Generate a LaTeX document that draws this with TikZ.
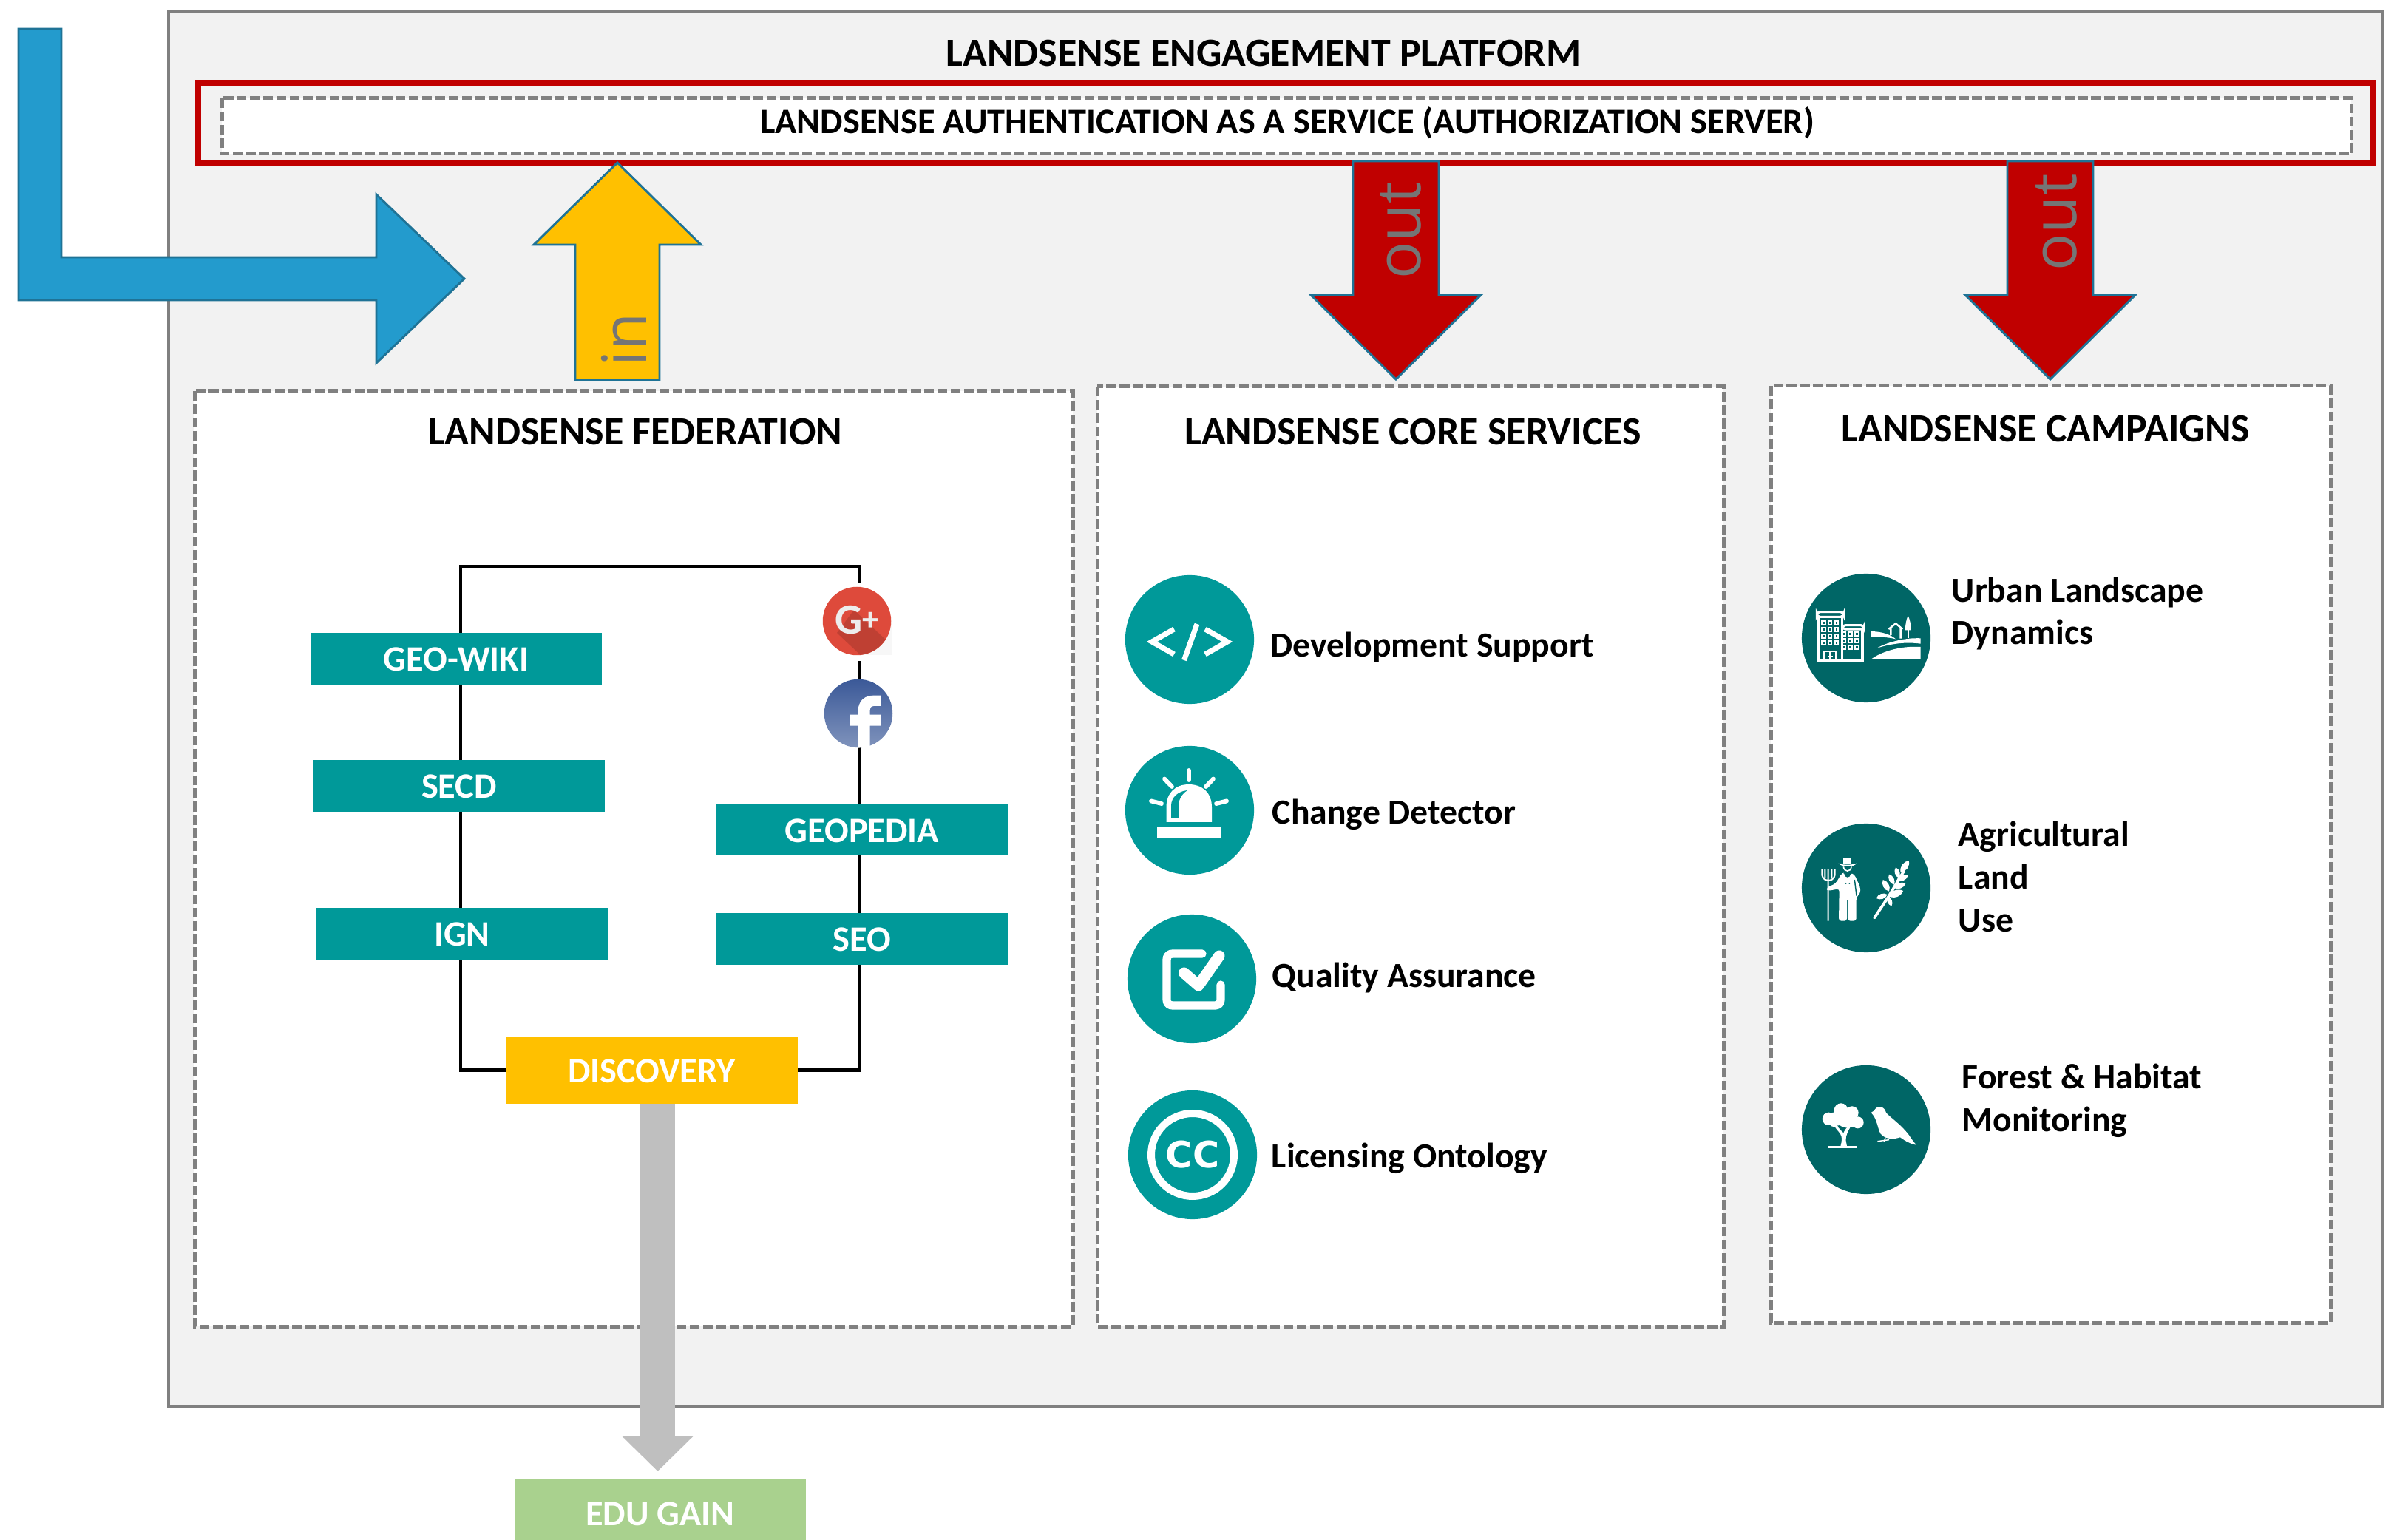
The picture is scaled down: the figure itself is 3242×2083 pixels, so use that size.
\documentclass[tikz,border=0pt]{standalone}
\usepackage{fontspec}
\setmainfont{Carlito}
\newfontfamily\arrowfont{Open Sans}
\newfontfamily\ccfont{DejaVu Sans}
\usetikzlibrary{arrows.meta}
\definecolor{teal1}{HTML}{009999}
\definecolor{teal2}{HTML}{006666}
\definecolor{amber}{HTML}{FFC000}
\definecolor{crimson}{HTML}{C00000}
\definecolor{sky}{HTML}{239BCD}
\definecolor{edge}{HTML}{1F7396}
\definecolor{midgrey}{HTML}{808080}
\definecolor{panel}{HTML}{F2F2F2}
\definecolor{leafgreen}{HTML}{A9D18E}
\definecolor{lightgrey}{HTML}{BFBFBF}
\definecolor{textgrey}{HTML}{757575}
\definecolor{fbblue}{HTML}{3B5998}
\definecolor{gred}{HTML}{DE4A3B}
\pgfdeclarelayer{bg}
\pgfsetlayers{bg,main}
\newcommand{\pxfont}[1]{\fontsize{#1}{#1}\selectfont}
\newcommand{\leafshape}[4]{\fill[white] (#1,#2) to[bend left=50] (#3,#4) to[bend left=50] (#1,#2) -- cycle;}
\tikzset{
  dashbox/.style={draw=midgrey,line width=1.2pt,dash pattern=on 3.2pt off 1.1pt,fill=white},
  blockedge/.style={draw=edge,line width=0.7pt,line join=miter},
  tagbox/.style={fill=teal1,text=white,inner sep=0pt,text height=8pt,text depth=0pt,minimum width=94.6pt,minimum height=16.6pt,font=\bfseries\pxfont{11.6pt}},
  headtext/.style={inner sep=0pt,font=\bfseries\pxfont{12.95pt}},
  itemtext/.style={inner sep=0pt,anchor=base west,font=\bfseries\pxfont{11.45pt}},
  multitext/.style={inner sep=0pt,anchor=west,align=left,font=\bfseries\fontsize{11.45pt}{13.9pt}\selectfont},
  arrowtext/.style={inner sep=0pt,anchor=base,rotate=90,text=textgrey,font=\arrowfont\pxfont{20pt}},
  disc1/.style={circle,fill=teal1,minimum size=41.8pt,inner sep=0pt},
  disc2/.style={circle,fill=teal2,minimum size=41.8pt,inner sep=0pt},
  iconline/.style={draw=white,line cap=round,line join=round,line width=#1}
}
\begin{document}
\begin{tikzpicture}[x=0.24pt,y=-0.24pt]
\useasboundingbox (0,0) rectangle (3242,2083);
% panels
\begin{pgfonlayer}{bg}
\fill[white] (0,0) rectangle (3242,2083);
\draw[draw=midgrey,line width=1pt,fill=panel] (228,16) rectangle (3223,1902);
\draw[draw=crimson,line width=2pt,fill=panel] (268,112) rectangle (3209,220);
\draw[dashbox] (300,133) rectangle (3180,208);
\draw[dashbox] (263,529) rectangle (1451,1794);
\draw[dashbox] (1484,523) rectangle (2331,1794);
\draw[dashbox] (2395,522) rectangle (3152,1789);
\end{pgfonlayer}
% titles
\node[headtext] (platform) at (1709,72) {LANDSENSE ENGAGEMENT PLATFORM};
\node[headtext,font=\bfseries\pxfont{11.6pt}] (auth) at (1741,166) {LANDSENSE AUTHENTICATION AS A SERVICE (AUTHORIZATION SERVER)};
\node[headtext] (fedtitle) at (859,584) {LANDSENSE FEDERATION};
\node[headtext] (coretitle) at (1911,584) {LANDSENSE CORE SERVICES};
\node[headtext] (camptitle) at (2767,580) {LANDSENSE CAMPAIGNS};
% federation
\node[tagbox] (geowiki) at (617,891) {GEO-WIKI};
\node[tagbox] (secd) at (621,1063) {SECD};
\node[tagbox] (ign) at (625,1263) {IGN};
\node[tagbox] (geopedia) at (1166,1122.5) {GEOPEDIA};
\node[tagbox] (seo) at (1166,1270) {SEO};
\node[tagbox,fill=amber,minimum height=21.8pt] (discovery) at (881.5,1447.5) {DISCOVERY};
\node[tagbox,fill=leafgreen,minimum height=22.1pt] (edugain) at (893,2047) {EDU GAIN};
\coordinate (lt) at (623,766);
\coordinate (rt) at (1162,766);
\begin{pgfonlayer}{bg}
\draw[line width=1pt,black] (discovery.west) -| (lt) -- (rt) |- (discovery.east);
\end{pgfonlayer}
% social logos
\fill[white] (1112,789) rectangle (1206,894);
\fill[white!97!black] (1159,840) rectangle (1206,886);
\node[circle,fill=gred,minimum size=22.2pt,inner sep=0pt] (gplus) at (1159,840) {};
\begin{scope}
\clip (1159,840) circle (46);
\fill[black!14!gred] (1132,856) -- (1155,825) -- (1205,872) -- (1205,890) -- (1168,890) -- cycle;
\end{scope}
\node[inner sep=0pt,text=white!93!black,font=\bfseries\pxfont{14pt}] (gtext) at (1159,839) {G\raisebox{1.2pt}{\pxfont{10.5pt}+}};
\node[circle,minimum size=22.2pt,inner sep=0pt,shade,top color=fbblue,middle color=fbblue,bottom color=fbblue!65!white] (fb) at (1161,965) {};
\begin{scope}[shift={(1050,760)},x=0.08pt,y=-0.08pt]
\fill[white] (333,755) -- (333,665) -- (298,665) -- (298,620) -- (333,620) -- (333,590) .. controls (340,560) and (360,542) .. (395,542) -- (423,542) -- (423,585) -- (395,585) .. controls (382,585) and (380,595) .. (380,605) -- (380,620) -- (423,620) -- (423,665) -- (380,665) -- (380,750) -- cycle;
\end{scope}
% discovery to edugain
\coordinate (gs) at (889.5,1493);
\coordinate (ge) at (889.5,1990);
\draw[line width=11.3pt,lightgrey,-{Triangle[length=11.3pt,width=22.3pt]}] (gs) -- (ge);
% block arrows
\draw[blockedge,fill=sky] (25,39) -- (83,39) -- (83,348) -- (509,348) -- (509,263) -- (628,377) -- (509,491) -- (509,406) -- (25,406) -- cycle;
\draw[blockedge,fill=amber] (835,220) -- (948,331) -- (892,331) -- (892,514) -- (778,514) -- (778,331) -- (722,331) -- cycle;
\draw[blockedge,fill=crimson] (1830,218) -- (1946,218) -- (1946,399) -- (2003,399) -- (1888,513) -- (1773,399) -- (1830,399) -- cycle;
\draw[blockedge,fill=crimson] (2715,218) -- (2831,218) -- (2831,399) -- (2888,399) -- (2773,513) -- (2658,399) -- (2715,399) -- cycle;
\node[arrowtext] (intext) at (874,459) {in};
\node[arrowtext] (out1) at (1921,312) {out};
\node[arrowtext] (out2) at (2808,301) {out};
% core service discs
\node[disc1] (c1) at (1609,865) {};
\node[disc1] (c2) at (1609,1096) {};
\node[disc1] (c3) at (1612,1324) {};
\node[disc1] (c4) at (1613,1562) {};
\node[itemtext] (t1) at (1718,889) {Development Support};
\node[itemtext] (t2) at (1720,1114) {Change Detector};
\node[itemtext] (t3) at (1720,1335) {Quality Assurance};
\node[itemtext] (t4) at (1719,1579) {Licensing Ontology};
% code icon
\draw[iconline=1.7pt,line cap=butt,line join=miter] (1588,851) -- (1558,868) -- (1588,885);
\draw[iconline=1.7pt,line cap=butt] (1601.5,893) -- (1619,844);
\draw[iconline=1.7pt,line cap=butt,line join=miter] (1630,851) -- (1660,868) -- (1630,885);
% alarm icon
\fill[white] (1565,1119) rectangle (1651.5,1134.5);
\fill[white] (1577.5,1112) -- (1577.5,1092) .. controls (1577.5,1072) and (1590,1061) .. (1608,1061) .. controls (1626,1061) and (1639,1072) .. (1639,1092) -- (1639,1112) -- cycle;
\fill[teal1] (1584,1106) -- (1584,1090) .. controls (1584,1078) and (1594,1070) .. (1606,1069) .. controls (1598,1074) and (1594,1082) .. (1594,1090) -- (1594,1106) -- cycle;
\draw[iconline=1.4pt] (1608,1042) -- (1608,1055) (1575,1053.5) -- (1585,1064) (1641,1053.5) -- (1631,1064) (1557,1083.5) -- (1571,1087) (1659,1083.5) -- (1645,1087);
% check icon
\draw[iconline=2.7pt] (1626,1290) -- (1586,1290) .. controls (1581,1290) and (1578,1293) .. (1578,1298) -- (1578,1352) .. controls (1578,1357) and (1581,1360) .. (1586,1360) -- (1643,1360) .. controls (1648,1360) and (1651,1357) .. (1651,1352) -- (1651,1332);
\draw[iconline=3.6pt] (1601.5,1316) -- (1621,1333) -- (1649,1293);
% cc icon
\draw[draw=white,line width=2.4pt] (1613,1562) circle (56);
\node[inner sep=0pt,text=white,font=\ccfont\bfseries\pxfont{11.8pt}] (cc) at (1613,1562) {CC};
% campaign discs
\node[disc2] (d1) at (2524,863) {};
\node[disc2] (d2) at (2524,1201) {};
\node[disc2] (d3) at (2524,1528) {};
\node[multitext] (u1) at (2639,830) {Urban Landscape\\Dynamics};
\node[multitext] (u2) at (2648,1186) {Agricultural\\Land\\Use};
\node[multitext] (u3) at (2653,1489) {Forest \& Habitat\\Monitoring};
% urban icon
\begin{scope}[shift={(2440,775)},x=0.08pt,y=-0.08pt]
\draw[draw=white,line width=0.75pt,rounded corners=1pt] (52,158) rectangle (160,178);
\draw[draw=white,line width=0.75pt] (58,178) -- (58,355) -- (237,355) -- (237,228) (155,178) -- (155,355);
\draw[draw=white,line width=0.75pt,rounded corners=1pt] (155,212) rectangle (243,228);
\foreach \xx in {72,98,125} \foreach \yy in {195,222,250,277} \draw[draw=white,line width=0.5pt] (\xx,\yy) rectangle +(14,14);
\foreach \xx in {153,180,207} \foreach \yy in {240,267,295} \draw[draw=white,line width=0.5pt] (\xx,\yy) rectangle +(14,14);
\draw[draw=white,line width=0.5pt] (82,355) -- (82,318) -- (130,318) -- (130,355) (106,322) -- (106,355) (96,338) -- (116,338);
\fill[white] (270,237) .. controls (310,237) and (350,248) .. (372,268) .. controls (340,260) and (300,258) .. (270,260) -- cycle;
\fill[white] (295,305) .. controls (340,280) and (410,262) .. (473,265) -- (473,287) .. controls (410,278) and (350,288) .. (295,305) -- cycle;
\fill[white] (272,350) .. controls (320,315) and (400,295) .. (473,300) -- (473,350) -- cycle;
\draw[draw=white,line width=0.6pt] (343,228) -- (372,205) -- (400,228) (352,225) -- (352,252) (392,222) -- (392,266);
\fill[white] (422,173) .. controls (414,190) and (410,215) .. (411,232) -- (434,232) .. controls (435,215) and (430,190) .. (422,173) -- cycle;
\draw[draw=white,line width=0.4pt] (422,232) -- (422,265);
\end{scope}
% farmer icon
\begin{scope}[shift={(2440,1115)},x=0.08pt,y=-0.08pt]
\draw[draw=white,line width=0.5pt] (98,392) -- (98,182) (73,182) -- (73,205) .. controls (75,222) and (90,228) .. (98,228) .. controls (108,228) and (123,222) .. (125,205) -- (125,182) (85,182) -- (85,218) (112,182) -- (112,218);
\fill[white] (160,138) rectangle (192,162);
\fill[white] (140,158) .. controls (155,166) and (195,166) .. (213,158) .. controls (205,175) and (150,175) .. (140,158) -- cycle;
\draw[draw=white,line width=0.4pt] (160,172) .. controls (162,195) and (190,195) .. (192,172);
\fill[white,rounded corners=0.8pt] (152,200) -- (165,196) -- (165,215) -- (188,215) -- (188,196) -- (205,205) -- (228,255) -- (228,280) -- (212,296) -- (212,392) -- (178,392) -- (178,300) -- (174,300) -- (174,392) -- (141,392) -- (143,262) -- (95,270) -- (90,258) -- (128,240) -- cycle;
\fill[teal2] (170,240) circle (3) (184,240) circle (3);
\draw[draw=teal2,line width=0.35pt] (205,225) -- (213,290);
% wheat
\draw[draw=white,line width=0.9pt,line cap=round] (285,380) -- (345,290) -- (405,190);
\leafshape{425}{148}{392}{195}
\leafshape{372}{175}{385}{218}
\leafshape{345}{203}{365}{245}
\leafshape{320}{225}{345}{272}
\leafshape{422}{208}{375}{228}
\leafshape{412}{240}{365}{258}
\leafshape{402}{270}{345}{292}
\leafshape{293}{300}{338}{285}
\leafshape{355}{332}{340}{292}
\end{scope}
% tree and bird icon
\begin{scope}[shift={(2440,1445)},x=0.08pt,y=-0.08pt]
\fill[white] (100,205) circle (26) (150,170) circle (28) (195,180) circle (26) (218,220) circle (24) (170,205) circle (36) (125,208) circle (30) (190,212) circle (28);
\fill[teal2] (135,232) -- (145,270) -- (155,270) -- (145,232) -- cycle (180,240) -- (186,240) -- (172,262) -- (168,258) -- cycle;
\fill[white] (148,316) .. controls (154,295) and (155,280) .. (148,268) .. controls (140,255) and (128,245) .. (122,232) -- (135,232) .. controls (140,245) and (152,255) .. (160,262) .. controls (165,250) and (172,245) .. (178,232) -- (190,235) .. controls (180,252) and (168,270) .. (170,295) -- (174,316) -- cycle;
\fill[white] (100,314) rectangle (215,324);
\fill[white] (272,180) -- (284,172) .. controls (295,150) and (325,150) .. (333,180) .. controls (350,200) and (390,225) .. (425,270) .. controls (435,285) and (445,300) .. (456,311) .. controls (435,308) and (410,295) .. (390,280) .. controls (365,288) and (330,290) .. (310,265) .. controls (297,240) and (297,205) .. (272,180) -- cycle;
\draw[draw=white,line width=0.35pt] (298,296) -- (345,290) (330,280) -- (325,298);
\end{scope}
\end{tikzpicture}
\end{document}
